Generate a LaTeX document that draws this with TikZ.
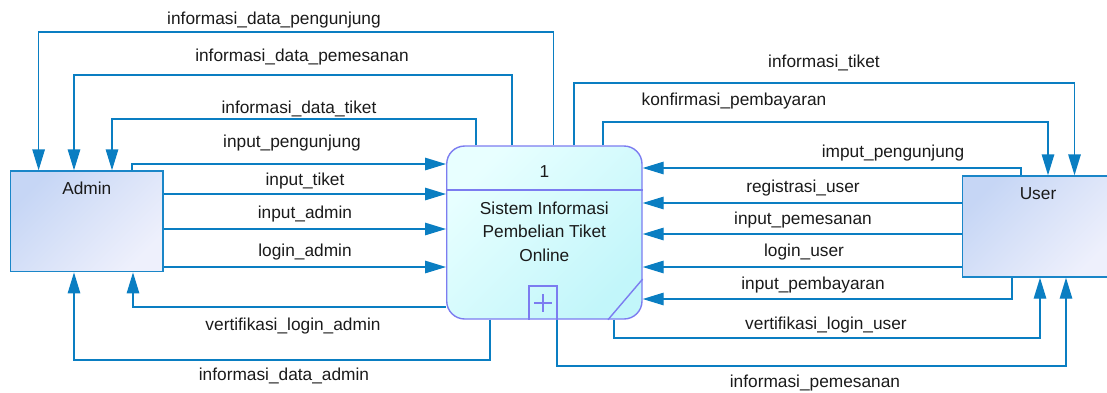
\documentclass[tikz,border=0pt]{standalone}
\usepackage{fontspec}
\setmainfont{Liberation Sans}
\usetikzlibrary{arrows.meta}
\definecolor{flowc}{HTML}{0A7EC2}
\definecolor{procb}{HTML}{7C7CF0}
\definecolor{entb}{HTML}{1A86C8}
\definecolor{entTop}{HTML}{C6D6F5}
\definecolor{entBot}{HTML}{EEF0FC}
\definecolor{procTop}{HTML}{E8FFFF}
\definecolor{procBot}{HTML}{C2F6FA}
\definecolor{txtc}{HTML}{1A1A1A}
\tikzset{
  flow/.style={draw=flowc, line width=1.4pt, -{Triangle[length=21pt,width=12.5pt]}},
  flowlabel/.style={font=\fontsize{17.3}{20}\selectfont, text=txtc, inner sep=0pt, anchor=center, text height=0.72em, text depth=0.21em, yshift=-3pt},
  entity/.style={draw=entb, line width=1.4pt, top color=entTop, bottom color=entBot, shading angle=45, inner sep=0pt},
  proc/.style={draw=procb, line width=1.4pt, rounded corners=18pt, top color=procTop, bottom color=procBot, shading angle=45, inner sep=0pt, minimum width=195.3pt, minimum height=173pt},
  procline/.style={draw=procb, line width=1.4pt},
  titletext/.style={font=\fontsize{17.3}{23.5}\selectfont, text=txtc, align=center, inner sep=0pt}
}
\begin{document}
\begin{tikzpicture}[x=1pt,y=-1pt]
\useasboundingbox (0,0) rectangle (1107,392);
% entities
\node[entity, minimum width=152.3pt, minimum height=100.7pt] (A) at (86.85,221.35) {};
\node[titletext] (Atxt) at (86.85,188) {Admin};
\node[entity, minimum width=149.6pt, minimum height=101pt] (U) at (1037.2,226.5) {};
\node[titletext] (Utxt) at (1038,194) {User};
% process
\node[proc] (P) at (544.35,232.5) {};
\draw[procline] (P.west |- 0,190) -- (P.east |- 0,190);
\node[titletext] (Pnum) at (544.35,172) {1};
\node[titletext] (Ptxt) at (544.35,231.5) {Sistem Informasi\\Pembelian Tiket\\Online};
\draw[procline] (529,0 |- P.south) -- (529,286) -- (557,286) -- (557,0 |- P.south);
\draw[procline, line width=1.2pt] (543,294) -- (543,312) (534,303) -- (552,303);
\draw[procline] (608,0 |- P.south) -- (P.east |- 0,279);
% admin flows
\draw[flow] (553.6,0 |- P.north) -- (553.6,32) -- (38.6,32) -- (38.6,0 |- A.north);
\draw[flow] (512,0 |- P.north) -- (512,75) -- (74,75) -- (74,0 |- A.north);
\draw[flow] (476,0 |- P.north) -- (476,119) -- (112,119) -- (112,0 |- A.north);
\draw[flow] (132,0 |- A.north) -- (132,164) -- (P.west |- 0,164);
\draw[flow] (A.east |- 0,194) -- (P.west |- 0,194);
\draw[flow] (A.east |- 0,229) -- (P.west |- 0,229);
\draw[flow] (A.east |- 0,267) -- (P.west |- 0,267);
\draw[flow] (P.west |- 0,307) -- (133,307) -- (133,0 |- A.south);
\draw[flow] (490,0 |- P.south) -- (490,360) -- (74,360) -- (74,0 |- A.south);
% user flows
\draw[flow] (574,0 |- P.north) -- (574,83) -- (1074.5,83) -- (1074.5,0 |- U.north);
\draw[flow] (603,0 |- P.north) -- (603,122) -- (1048,122) -- (1048,0 |- U.north);
\draw[flow] (1021,0 |- U.north) -- (1021,168) -- (P.east |- 0,168);
\draw[flow] (U.west |- 0,203) -- (P.east |- 0,203);
\draw[flow] (U.west |- 0,234) -- (P.east |- 0,234);
\draw[flow] (U.west |- 0,267) -- (P.east |- 0,267);
\draw[flow] (1012,0 |- U.south) -- (1012,299) -- (P.east |- 0,299);
\draw[flow] (614,0 |- P.south) -- (614,338) -- (1040,338) -- (1040,0 |- U.south);
\draw[flow] (557,0 |- P.south) -- (557,366) -- (1066,366) -- (1066,0 |- U.south);
% labels
\node[flowlabel] (l1) at (274,19) {informasi\_data\_pengunjung};
\node[flowlabel] (l2) at (302,56) {informasi\_data\_pemesanan};
\node[flowlabel] (l3) at (299,108) {informasi\_data\_tiket};
\node[flowlabel] (l4) at (292,142) {input\_pengunjung};
\node[flowlabel] (l5) at (305,180) {input\_tiket};
\node[flowlabel] (l6) at (305,213) {input\_admin};
\node[flowlabel] (l7) at (305,251) {login\_admin};
\node[flowlabel] (l8) at (293,325) {vertifikasi\_login\_admin};
\node[flowlabel] (l9) at (284,375) {informasi\_data\_admin};
\node[flowlabel] (l10) at (824,62) {informasi\_tiket};
\node[flowlabel] (l11) at (734,100) {konfirmasi\_pembayaran};
\node[flowlabel] (l12) at (893,152) {imput\_pengunjung};
\node[flowlabel] (l13) at (803,187) {registrasi\_user};
\node[flowlabel] (l14) at (803,219) {input\_pemesanan};
\node[flowlabel] (l15) at (804,251) {login\_user};
\node[flowlabel] (l16) at (813,284) {input\_pembayaran};
\node[flowlabel] (l17) at (826,324) {vertifikasi\_login\_user};
\node[flowlabel] (l18) at (815,382) {informasi\_pemesanan};
\end{tikzpicture}
\end{document}
